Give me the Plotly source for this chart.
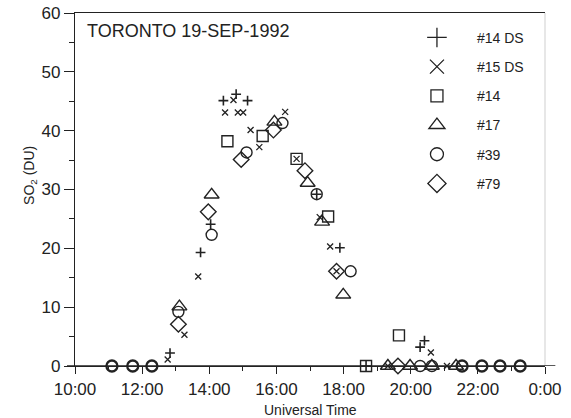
import plotly.graph_objects as go

# Universal time in decimal hours, SO2 column in Dobson units
t_14ds = [12.83, 13.74, 14.04, 14.42, 14.80, 15.14, 17.20, 17.89, 18.67, 20.28, 20.41]
v_14ds = [2.2, 19.3, 24.1, 45.1, 46.2, 45.1, 29.2, 20.1, 0.0, 3.2, 4.3]

t_15ds = [12.76, 13.26, 13.67, 14.47, 14.72, 14.85, 15.01, 15.23, 15.49, 16.26,
          16.60, 17.29, 17.60, 17.79, 19.32, 20.60, 21.08]
v_15ds = [1.1, 5.3, 15.2, 43.1, 45.2, 43.1, 43.1, 40.1, 37.2, 43.2,
          35.2, 25.3, 20.3, 16.1, 0.0, 2.3, 0.0]

t_14 = [14.54, 15.59, 16.60, 17.54, 18.67, 19.65]
v_14 = [38.2, 39.1, 35.2, 25.4, 0.0, 5.2]

t_17 = [13.11, 14.07, 15.94, 16.93, 17.36, 17.99, 19.32, 19.98, 20.63, 21.35]
v_17 = [10.1, 29.1, 41.5, 31.1, 24.5, 12.1, 0.0, 0.0, 0.0, 0.0]

t_39 = [11.10, 11.72, 12.29, 13.08, 14.07, 15.11, 16.18, 17.20, 18.21,
        20.28, 20.63, 21.53, 22.12, 22.66, 23.26]
v_39 = [0.0, 0.0, 0.0, 9.2, 22.3, 36.3, 41.3, 29.2, 16.1,
        0.0, 0.0, 0.0, 0.0, 0.0, 0.0]

t_79 = [13.08, 13.97, 14.95, 15.91, 16.85, 17.79, 19.62]
v_79 = [7.1, 26.2, 35.1, 40.1, 33.2, 16.1, 0.0]

series_names = ["#14 DS", "#15 DS", "#14", "#17", "#39", "#79"]

tick_hours = [10, 12, 14, 16, 18, 20, 22, 24]
tick_labels = ["10:00", "12:00", "14:00", "16:00", "18:00", "20:00", "22:00", "0:00"]
minor_hours = [11, 13, 15, 17, 19, 21, 23]

INK = "#222222"
FONT = "Liberation Sans, Arial, sans-serif"


def ring_widths(times, values):
    # repeated baseline circles are drawn heavier
    return [2.3 if (v == 0 and (t < 13 or t > 21.4)) else 1.4
            for t, v in zip(times, values)]


# (times, values, symbol, plot size, legend size, line width)
styles = [
    (t_14ds, v_14ds, "cross-thin-open", 7, 14, 1.6),
    (t_15ds, v_15ds, "x-thin-open", 6, 14, 1.3),
    (t_14, v_14, "square-open", 11, 12, 1.4),
    (t_17, v_17, "triangle-up-open", 13, 14, 1.4),
    (t_39, v_39, "circle-open", 11, 13, ring_widths(t_39, v_39)),
    (t_79, v_79, "diamond-open", 12, 14, 1.4),
]

fig = go.Figure()

for name, (tt, vv, sym, size, lsize, lw) in zip(series_names, styles):
    fig.add_trace(go.Scatter(
        x=tt, y=vv, mode="markers", name=name, legendgroup=name,
        showlegend=False, cliponaxis=False,
        marker=dict(symbol=sym, size=size, color=INK,
                    line=dict(color=INK, width=lw)),
    ))
    # legend entry with a larger key symbol
    fig.add_trace(go.Scatter(
        x=[None], y=[None], mode="markers", name=name, legendgroup=name,
        showlegend=True,
        marker=dict(symbol=sym, size=lsize, color=INK,
                    line=dict(color=INK, width=1.3)),
    ))

fig.update_layout(
    width=571, height=418,
    margin=dict(l=75, r=26, t=13, b=52, autoexpand=False),
    paper_bgcolor="white", plot_bgcolor="white",
    font=dict(family=FONT, color=INK),
    showlegend=True,
    legend=dict(
        x=0.685, y=0.975, xanchor="left", yanchor="top",
        font=dict(family=FONT, size=14, color=INK),
        itemwidth=70, traceorder="grouped", tracegroupgap=8,
        bgcolor="rgba(0,0,0,0)", borderwidth=0,
    ),
    xaxis=dict(
        range=[10, 24], tickmode="array", tickvals=tick_hours, ticktext=tick_labels,
        ticks="outside", ticklen=7, tickwidth=1.2, tickcolor=INK,
        showline=True, linecolor=INK, linewidth=1.3, mirror=True,
        showgrid=False, zeroline=False, automargin=False,
        tickfont=dict(family=FONT, size=17, color=INK),
        minor=dict(tickvals=minor_hours, ticks="outside", ticklen=4,
                   tickwidth=1, tickcolor=INK),
    ),
    yaxis=dict(
        range=[0, 60], tickmode="linear", tick0=0, dtick=10,
        ticks="outside", ticklen=10, tickwidth=1.2, tickcolor=INK,
        showline=True, linecolor=INK, linewidth=1.3,
        showgrid=False, zeroline=False, automargin=False,
        tickfont=dict(family=FONT, size=17, color=INK),
        minor=dict(dtick=5, ticks="outside", ticklen=5, tickwidth=1,
                   tickcolor=INK),
    ),
    annotations=[
        dict(text="TORONTO 19-SEP-1992", xref="paper", yref="paper",
             x=0.0213, y=0.949, xanchor="left", yanchor="middle",
             showarrow=False, font=dict(family=FONT, size=18, color=INK)),
        dict(text="SO<sub>2</sub> (DU)", xref="paper", yref="paper",
             x=-0.096, y=0.541, xanchor="center", yanchor="middle",
             textangle=-90, showarrow=False,
             font=dict(family=FONT, size=14, color=INK)),
        dict(text="Universal Time", xref="paper", yref="paper",
             x=0.5, y=-0.125, xanchor="center", yanchor="middle",
             showarrow=False, font=dict(family=FONT, size=14, color=INK)),
    ],
    shapes=[
        # light right-hand frame
        dict(type="line", xref="paper", yref="paper", x0=1, x1=1, y0=0, y1=1,
             line=dict(color="#cfcfcf", width=1)),
        # baseline running slightly past the frame
        dict(type="line", xref="paper", yref="y", x0=-0.017, x1=1.022, y0=0, y1=0,
             line=dict(color=INK, width=1.3)),
    ],
)

fig.write_html("out.html")
